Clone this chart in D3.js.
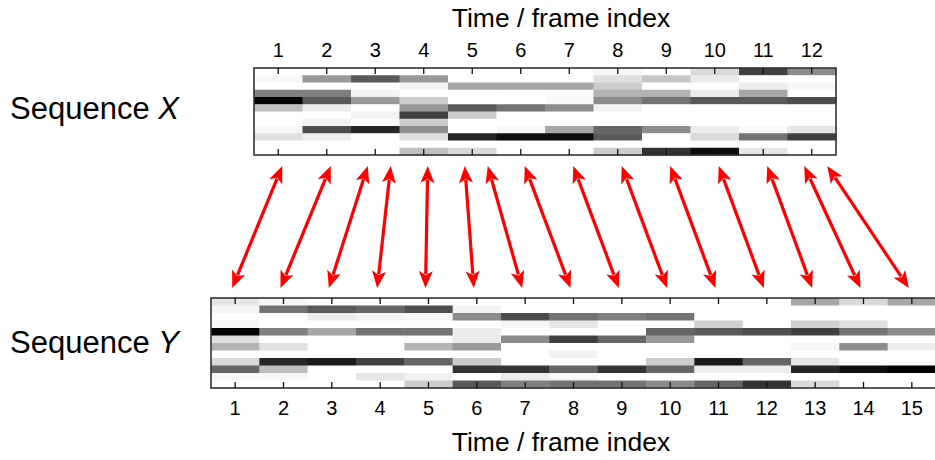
<!DOCTYPE html>
<html>
<head>
<meta charset="utf-8">
<script src="https://cdn.jsdelivr.net/npm/d3@7"></script>
<style>
  html, body { margin: 0; padding: 0; background: #fff; }
  svg { display: block; font-family: "Liberation Sans", Arial, sans-serif; }
</style>
</head>
<body>
<svg id="chart" width="935" height="460"></svg>
<script>
// ---------------- DATA ----------------
const framesX = d3.range(1, 13);           // 12 frames of sequence X
const framesY = d3.range(1, 16);           // 15 frames of sequence Y
const featureDims = d3.range(12);          // 12 feature rows per frame

// darkness (0 = white, 1 = black); one array per frame, rows top -> bottom
const seqX = [
  [0, 0.03, 0, 0.5, 1.0, 0.25, 0, 0, 0.03, 0.12, 0, 0],
  [0, 0.4, 0, 0.5, 0.65, 0.07, 0, 0.05, 0.7, 0.07, 0, 0],
  [0, 0.65, 0, 0.05, 0.4, 0, 0.05, 0.02, 0.85, 0, 0, 0],
  [0, 0.4, 0.04, 0, 0.2, 0.4, 0.75, 0.2, 0.45, 0.12, 0, 0.25],
  [0, 0, 0.35, 0, 0, 0.65, 0.2, 0, 0, 0.85, 0, 0.15],
  [0, 0, 0.35, 0, 0, 0.55, 0, 0, 0.03, 0.95, 0, 0],
  [0, 0, 0.35, 0.02, 0.02, 0.45, 0, 0, 0.35, 0.95, 0, 0],
  [0.03, 0.12, 0.2, 0.3, 0.45, 0.05, 0, 0, 0.6, 0.65, 0, 0.2],
  [0, 0.22, 0, 0.3, 0.55, 0, 0, 0, 0.45, 0, 0, 0.8],
  [0.15, 0.08, 0, 0.08, 0.65, 0, 0, 0, 0.07, 0.15, 0, 0.95],
  [0.75, 0, 0.07, 0.35, 0.65, 0, 0, 0, 0.02, 0.55, 0, 0.1],
  [0.45, 0, 0.03, 0, 0.7, 0, 0, 0, 0.1, 0.75, 0, 0]
];
const seqY = [
  [0.1, 0.04, 0, 0.03, 1.0, 0.12, 0.3, 0, 0.15, 0.6, 0.03, 0],
  [0.03, 0.55, 0, 0, 0.5, 0, 0.12, 0, 0.85, 0.25, 0.03, 0],
  [0, 0.65, 0.07, 0, 0.35, 0, 0, 0, 0.9, 0, 0, 0],
  [0, 0.6, 0.05, 0, 0.55, 0, 0, 0, 0.75, 0, 0.1, 0],
  [0, 0.7, 0.03, 0, 0.55, 0.02, 0.3, 0, 0.6, 0, 0.05, 0.2],
  [0, 0.05, 0.45, 0, 0.07, 0.08, 0.4, 0, 0.2, 0.8, 0, 0.65],
  [0, 0, 0.7, 0.03, 0, 0.45, 0, 0, 0, 0.8, 0.07, 0.5],
  [0, 0, 0.55, 0.1, 0, 0.75, 0, 0.05, 0, 0.6, 0.03, 0.55],
  [0, 0, 0.5, 0, 0, 0.6, 0, 0, 0, 0.8, 0, 0.55],
  [0, 0, 0.55, 0, 0.6, 0.4, 0, 0, 0.2, 0.6, 0, 0.45],
  [0, 0, 0, 0.18, 0.65, 0, 0, 0, 0.9, 0.07, 0, 0.6],
  [0, 0, 0, 0, 0.7, 0, 0, 0, 0.6, 0.07, 0, 0.8],
  [0.35, 0, 0, 0.18, 0.75, 0, 0.03, 0, 0.1, 0.85, 0, 0.15],
  [0.15, 0, 0, 0.12, 0.55, 0, 0.45, 0, 0, 0.95, 0, 0],
  [0.35, 0, 0, 0, 0.45, 0, 0.07, 0, 0, 1.0, 0, 0]
];
// DTW warping path: [frame of X, frame of Y]
const warpPath = [
  [1, 1], [2, 2], [3, 3], [3, 4], [4, 5], [5, 6], [5, 7], [6, 8],
  [7, 9], [8, 10], [9, 11], [10, 12], [11, 13], [12, 14], [12, 15]
];
const axisTitle = "Time / frame index";
const labelX = ["Sequence ", "X"];
const labelY = ["Sequence ", "Y"];

// ---------------- DRAW ----------------
const svg = d3.select("#chart");
const grey = d3.scaleLinear().domain([0, 1]).range(["#ffffff", "#000000"]);

const xTop = d3.scaleBand().domain(framesX).range([254, 836]);
const rowTop = d3.scaleBand().domain(featureDims).range([68, 155]);
const xBot = d3.scaleBand().domain(framesY).range([211, 936]);
const rowBot = d3.scaleBand().domain(featureDims).range([298, 388]);

function heatmap(data, frames, xs, rows) {
  const g = svg.append("g");
  frames.forEach((f, i) => {
    g.selectAll(null).data(data[i]).enter().append("rect")
      .attr("x", xs(f))
      .attr("y", (d, r) => rows(r))
      .attr("width", xs.bandwidth() + 0.5)
      .attr("height", rows.bandwidth() + 0.5)
      .attr("fill", d => grey(d));
  });
  const [x0, x1] = xs.range();
  const [y0, y1] = rows.range();
  g.append("rect").attr("x", x0).attr("y", y0)
    .attr("width", x1 - x0).attr("height", y1 - y0)
    .attr("fill", "none").attr("stroke", "#333").attr("stroke-width", 1.6);
  return g;
}

function styleAxis(g, showLabels) {
  g.select(".domain").remove();
  g.selectAll(".tick line").attr("stroke", "#111").attr("stroke-width", 1.3);
  g.selectAll(".tick text")
    .attr("fill", "#000")
    .style("font-size", "20px")
    .style("font-family", "'Liberation Sans', Arial, sans-serif");
  if (!showLabels) g.selectAll(".tick text").remove();
}

// Sequence X heatmap
heatmap(seqX, framesX, xTop, rowTop);
svg.append("g").attr("transform", `translate(0,${rowTop.range()[0]})`)
  .call(d3.axisTop(xTop).tickSize(-6).tickPadding(11))
  .call(g => styleAxis(g, true));
svg.append("g").attr("transform", `translate(0,${rowTop.range()[1]})`)
  .call(d3.axisBottom(xTop).tickSize(-6))
  .call(g => styleAxis(g, false));

// Sequence Y heatmap
heatmap(seqY, framesY, xBot, rowBot);
svg.append("g").attr("transform", `translate(0,${rowBot.range()[0]})`)
  .call(d3.axisTop(xBot).tickSize(-6))
  .call(g => styleAxis(g, false));
svg.append("g").attr("transform", `translate(0,${rowBot.range()[1]})`)
  .call(d3.axisBottom(xBot).tickSize(-6).tickPadding(13))
  .call(g => styleAxis(g, true));

// Axis titles
svg.append("text").attr("x", 561).attr("y", 27).attr("text-anchor", "middle")
  .style("font-size", "26.5px").text(axisTitle);
svg.append("text").attr("x", 561).attr("y", 451).attr("text-anchor", "middle")
  .style("font-size", "26.5px").text(axisTitle);

// Sequence labels
function seqLabel(parts, y) {
  const t = svg.append("text").attr("x", 10).attr("y", y).style("font-size", "31px");
  t.append("tspan").text(parts[0]);
  t.append("tspan").style("font-style", "italic").text(parts[1]);
}
seqLabel(labelX, 119);
seqLabel(labelY, 353);

// Warping arrows
const countX = d3.rollup(warpPath, v => v.length, d => d[0]);
const seenX = new Map();
const arrowG = svg.append("g");
const yA = rowTop.range()[1] + 11;
const yB = rowBot.range()[0] - 10;
const headL = 17, headW = 7;
warpPath.forEach(([fx, fy]) => {
  const n = countX.get(fx);
  const k = seenX.get(fx) || 0;
  seenX.set(fx, k + 1);
  const off = (k - (n - 1) / 2) * 23;
  const ax = xTop(fx) + xTop.bandwidth() / 2 + off + 4;
  const bx = xBot(fy) + xBot.bandwidth() / 2 - 3;
  const dx = bx - ax, dy = yB - yA, len = Math.hypot(dx, dy);
  const ux = dx / len, uy = dy / len, px = -uy, py = ux;
  arrowG.append("line")
    .attr("x1", ax + ux * (headL - 3)).attr("y1", yA + uy * (headL - 3))
    .attr("x2", bx - ux * (headL - 3)).attr("y2", yB - uy * (headL - 3))
    .attr("stroke", "#ff0000").attr("stroke-width", 3.2);
  const head = (tx, ty, sx, sy) => {
    const bxh = tx + sx * headL, byh = ty + sy * headL;
    const nx = tx + sx * (headL - 4), ny = ty + sy * (headL - 4);
    return `M${tx},${ty}L${bxh + px * headW},${byh + py * headW}L${nx},${ny}L${bxh - px * headW},${byh - py * headW}Z`;
  };
  arrowG.append("path").attr("d", head(ax, yA, ux, uy)).attr("fill", "#ff0000");
  arrowG.append("path").attr("d", head(bx, yB, -ux, -uy)).attr("fill", "#ff0000");
});
</script>
</body>
</html>
